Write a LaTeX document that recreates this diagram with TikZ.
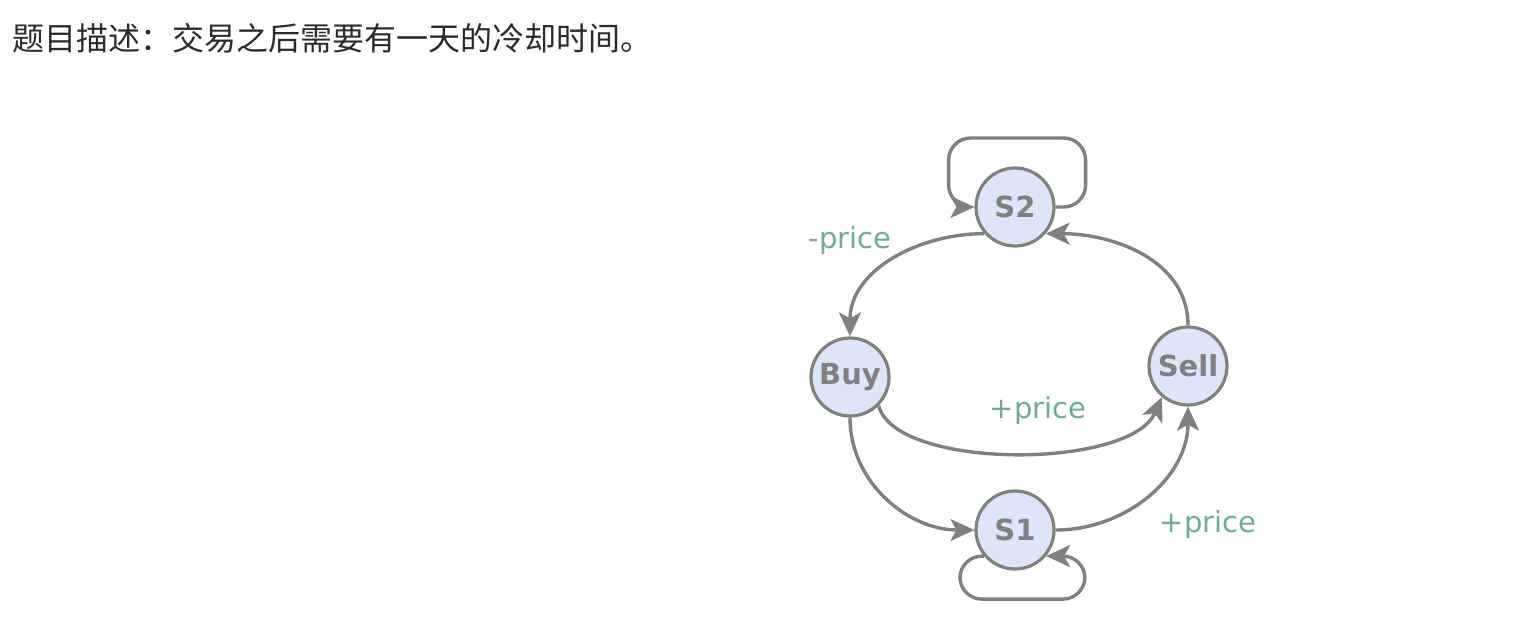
\documentclass[tikz,border=0pt]{standalone}
\usepackage{fontspec}
\setmainfont{DejaVu Sans}
\newfontfamily\cjk{Noto Sans CJK SC}
\usetikzlibrary{arrows.meta}
\definecolor{stategray}{HTML}{808080}
\definecolor{statefill}{HTML}{DDE6F8}
\definecolor{pricegreen}{HTML}{6FAA9B}
\definecolor{titleblack}{HTML}{2B2B2B}
\tikzset{
  state/.style={circle,draw=stategray,fill=statefill,line width=1.6pt,minimum size=39pt,inner sep=0pt,text=stategray,font=\fontsize{14.5}{17}\selectfont\bfseries},
  trans/.style={draw=stategray,line width=1.7pt,-{Stealth[length=12pt,width=11pt,inset=3pt]}},
  price/.style={text=pricegreen,font=\fontsize{14.5}{17}\selectfont,inner sep=0pt}
}
\begin{document}
\begin{tikzpicture}[x=0.5pt,y=0.5pt]
  \useasboundingbox (0,0) rectangle (1528,-628);
  \node[anchor=west,inner sep=0pt,text=titleblack,font=\cjk\fontsize{16}{19}\selectfont] (title) at (12,-38) {题目描述：交易之后需要有一天的冷却时间。};

  \node[state] (S2) at (1015,-207) {S2};
  \node[state] (Buy) at (850,-377) {Buy};
  \node[state] (Sell) at (1188,-366) {Sell};
  \node[state] (S1) at (1015,-530) {S1};

  \node[price] (minus) at (850,-240) {-price};
  \node[price] (plusmid) at (1038,-410) {+price};
  \node[price] (plusright) at (1208,-524) {+price};

  \draw[trans] (S2.221) to[out=180,in=90] (Buy);
  \draw[trans] (Sell) to[out=90,in=0] (S2.-41);
  \draw[trans] (Buy.-45) .. controls (895,-470) and (1130,-470) .. (Sell.-130);
  \draw[trans] (Buy) to[out=-90,in=180] (S1);
  \draw[trans] (S1) to[out=0,in=-90] (Sell);
  % self loops
  \draw[trans,rounded corners=11pt] (S2.east) -- ++(30,0) -- ++(0,69) -- ++(-137,0) -- ++(0,-69) -- (S2.west);
  \draw[trans,rounded corners=11pt] (S1.220) -- ++(-24,0) -- ++(0,-43) -- ++(125,0) -- ++(0,43) -- (S1.-40);
\end{tikzpicture}
\end{document}
